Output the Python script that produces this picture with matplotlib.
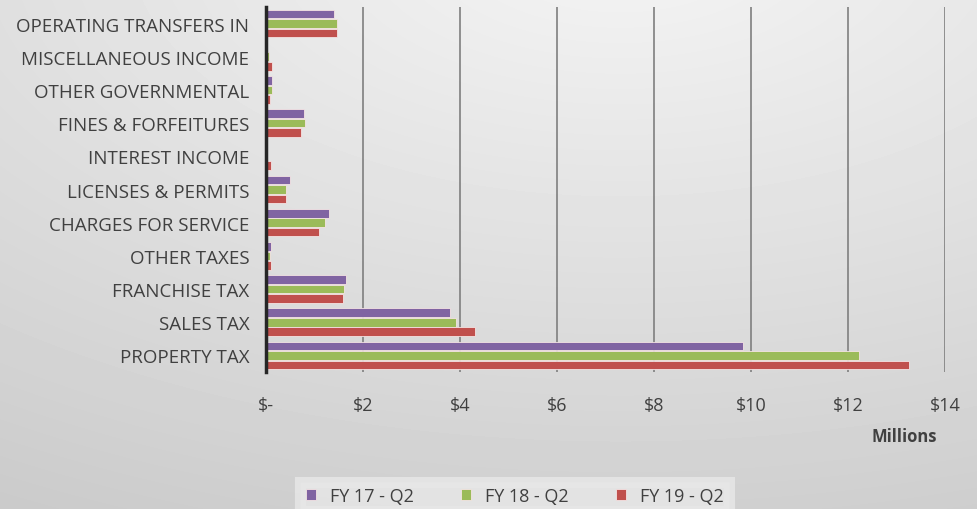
import matplotlib
matplotlib.use("Agg")
import matplotlib.pyplot as plt
import numpy as np

categories = ["PROPERTY TAX", "SALES TAX", "FRANCHISE TAX", "OTHER TAXES",
              "CHARGES FOR SERVICE", "LICENSES & PERMITS", "INTEREST INCOME",
              "FINES & FORFEITURES", "OTHER GOVERNMENTAL",
              "MISCELLANEOUS INCOME", "OPERATING TRANSFERS IN"]
fy17 = [9.84, 3.80, 1.65, 0.10, 1.29, 0.50, 0.0, 0.78, 0.12, 0.02, 1.40]
fy18 = [12.23, 3.92, 1.61, 0.08, 1.22, 0.41, 0.0, 0.81, 0.12, 0.07, 1.47]
fy19 = [13.26, 4.31, 1.58, 0.10, 1.10, 0.42, 0.10, 0.72, 0.09, 0.12, 1.47]
series_names = ["FY 17 - Q2", "FY 18 - Q2", "FY 19 - Q2"]
colors = ["#8064A2", "#9BBB59", "#C0504D"]
xticks = [0, 2, 4, 6, 8, 10, 12, 14]
xticklabels = ["$-", "$2", "$4", "$6", "$8", "$10", "$12", "$14"]

plt.rcParams["font.family"] = ["Open Sans", "DejaVu Sans"]
txt = "#404040"

fig = plt.figure(figsize=(9.77, 5.10), dpi=100)

# radial gray background
bg = fig.add_axes([0, 0, 1, 1], zorder=-10)
yy, xx = np.mgrid[0:510, 0:977]
r = np.sqrt(((xx - 620) / 977.0) ** 2 + ((yy + 60) / 510.0) ** 2)
shade = np.clip(0.96 - 0.13 * r, 0.78, 0.96)
bg.imshow(shade, cmap="gray", vmin=0, vmax=1, aspect="auto",
          extent=[0, 1, 0, 1], origin="upper")
bg.axis("off")

ax = fig.add_axes([0.2723, 0.2686, 0.6950, 0.7157])
ax.patch.set_alpha(0)

y = np.arange(len(categories))
h = 0.26
off = 0.285
for vals, c, name, d in zip([fy17, fy18, fy19], colors, series_names, [off, 0, -off]):
    ax.barh(y + d, vals, height=h, color=c, edgecolor="#f4e4e4",
            linewidth=0.6, label=name, zorder=3)

ax.set_xlim(0, 14)
ax.set_ylim(-0.5, len(categories) - 0.5)
ax.set_xticks(xticks)
ax.set_xticklabels(xticklabels, fontsize=13, color=txt)
ax.set_yticks(y)
ax.set_yticklabels(categories, fontsize=13.5, color=txt)
ax.tick_params(axis="both", length=0)
ax.tick_params(axis="x", pad=17)
ax.tick_params(axis="y", pad=12)
ax.grid(axis="x", color="#7f7f7f", linewidth=1.2, zorder=0)
for s in ["top", "right", "bottom"]:
    ax.spines[s].set_visible(False)
ax.spines["left"].set_color("#262626")
ax.spines["left"].set_linewidth(2.5)
ax.spines["left"].set_zorder(4)

fig.text(0.926, 0.143, "Millions", fontsize=12, fontweight="bold", color=txt,
         ha="center", va="center")

leg = fig.legend(loc="center", bbox_to_anchor=(0.527, 0.025), ncol=3,
                 fontsize=13, frameon=True, fancybox=False, handlelength=0.55,
                 handleheight=0.55, columnspacing=2.6, handletextpad=0.8,
                 borderpad=0.3, borderaxespad=0)
leg.get_frame().set_facecolor("#e8e8e8")
leg.get_frame().set_edgecolor("#e8e8e8")
leg.get_frame().set_linewidth(8)
for t in leg.get_texts():
    t.set_color(txt)

fig.savefig("out.png", dpi=100)
